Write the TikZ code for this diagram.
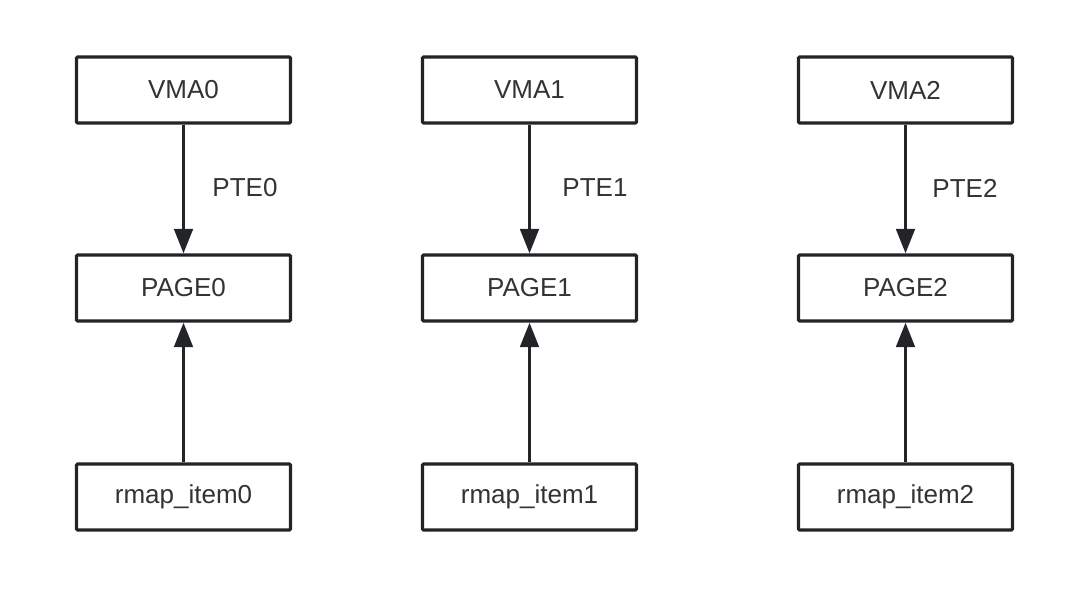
\documentclass[tikz,border=0pt]{standalone}
\usepackage{fontspec}
\setmainfont{Liberation Sans}
\usetikzlibrary{arrows.meta}
\definecolor{boxline}{RGB}{34,36,40}
\definecolor{txt}{RGB}{51,51,51}

\begin{document}
\begin{tikzpicture}[x=0.02cm, y=-0.02cm,
    box/.style={shape=rectangle, draw=boxline, line width=1.8pt, rounded corners=0.6pt, minimum width=4.28cm, minimum height=1.32cm, inner sep=0pt, text=txt, font=\fontsize{14.8}{17}\selectfont},
    link/.style={line width=2.1pt, draw=boxline, -{Triangle[length=14pt, width=10.5pt]}},
    lbl/.style={text=txt, font=\fontsize{14.8}{17}\selectfont}]
    \useasboundingbox (0,0) rectangle (1092,600);
    \node[box] (V0) at (183.5, 90) {VMA0};
    \node[box] (P0) at (183.5, 288) {PAGE0};
    \node[box] (R0) at (183.5, 497) {rmap\_item0};
        \node[lbl] (T0) at (245, 188) {PTE0};
    \node[box] (V1) at (529.5, 90) {VMA1};
    \node[box] (P1) at (529.5, 288) {PAGE1};
    \node[box] (R1) at (529.5, 497) {rmap\_item1};
        \node[lbl] (T1) at (595, 188) {PTE1};
    \node[box] (V2) at (905.5, 90) {VMA2};
    \node[box] (P2) at (905.5, 288) {PAGE2};
    \node[box] (R2) at (905.5, 497) {rmap\_item2};
        \node[lbl] (T2) at (965, 188) {PTE2};
    \draw[link] (V0) -- (P0);
    \draw[link] (R0) -- (P0);
    \draw[link] (V1) -- (P1);
    \draw[link] (R1) -- (P1);
    \draw[link] (V2) -- (P2);
    \draw[link] (R2) -- (P2);
\end{tikzpicture}
\end{document}
